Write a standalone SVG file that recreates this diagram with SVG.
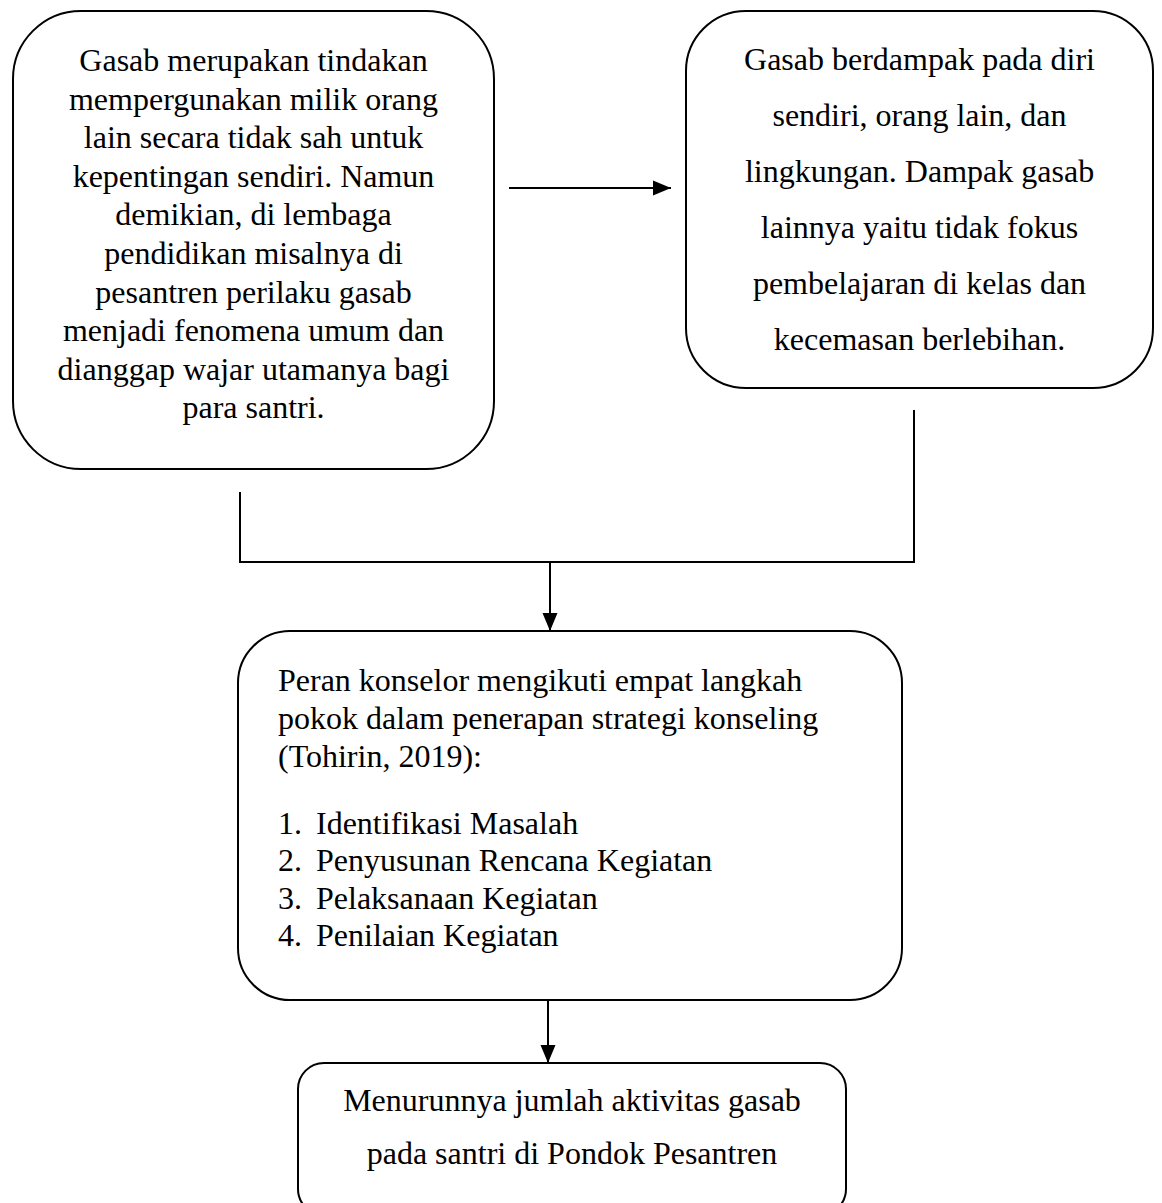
<svg xmlns="http://www.w3.org/2000/svg" width="1162" height="1203" viewBox="0 0 1162 1203">
<style>
.box{fill:#fff;stroke:#000;stroke-width:2}
.t{font-family:"Liberation Serif","Times New Roman",serif;font-size:32px;fill:#000}
.c{text-anchor:middle}
.ln{fill:none;stroke:#000;stroke-width:2}
</style>
<defs>
<marker id="ah" markerUnits="userSpaceOnUse" markerWidth="18" markerHeight="16" viewBox="0 0 18 16" refX="18" refY="8" orient="auto">
<path d="M0,0.5 L18,8 L0,15.5 z" fill="#000"/>
</marker>
</defs>
<rect width="1162" height="1203" fill="#fff"/>
<g id="connectors">
<line class="ln" x1="509" y1="188" x2="671" y2="188" marker-end="url(#ah)"/>
<polyline class="ln" points="240,492 240,562 914,562 914,410"/>
<line class="ln" x1="550" y1="562" x2="550" y2="631" marker-end="url(#ah)"/>
<line class="ln" x1="548" y1="1000" x2="548" y2="1063" marker-end="url(#ah)"/>
</g>
<g id="node1">
<rect class="box" x="13" y="11" width="481" height="458" rx="68" ry="68"/>
<text class="t c" x="253.5" y="71">Gasab merupakan tindakan</text>
<text class="t c" x="253.5" y="109.6">mempergunakan milik orang</text>
<text class="t c" x="253.5" y="148.2">lain secara tidak sah untuk</text>
<text class="t c" x="253.5" y="186.8">kepentingan sendiri. Namun</text>
<text class="t c" x="253.5" y="225.4">demikian, di lembaga</text>
<text class="t c" x="253.5" y="264">pendidikan misalnya di</text>
<text class="t c" x="253.5" y="302.6">pesantren perilaku gasab</text>
<text class="t c" x="253.5" y="341.2">menjadi fenomena umum dan</text>
<text class="t c" x="253.5" y="379.8">dianggap wajar utamanya bagi</text>
<text class="t c" x="253.5" y="418.4">para santri.</text>
</g>
<g id="node2">
<rect class="box" x="686" y="11" width="467" height="377" rx="60" ry="60"/>
<text class="t c" x="919.5" y="70">Gasab berdampak pada diri</text>
<text class="t c" x="919.5" y="126">sendiri, orang lain, dan</text>
<text class="t c" x="919.5" y="182">lingkungan. Dampak gasab</text>
<text class="t c" x="919.5" y="238">lainnya yaitu tidak fokus</text>
<text class="t c" x="919.5" y="294">pembelajaran di kelas dan</text>
<text class="t c" x="919.5" y="350">kecemasan berlebihan.</text>
</g>
<g id="node3">
<rect class="box" x="238" y="631" width="664" height="369" rx="52" ry="52"/>
<text class="t" x="278" y="691">Peran konselor mengikuti empat langkah</text>
<text class="t" x="278" y="729">pokok dalam penerapan strategi konseling</text>
<text class="t" x="278" y="767">(Tohirin, 2019):</text>
<text class="t" x="278" y="834">1.</text><text class="t" x="316" y="834">Identifikasi Masalah</text>
<text class="t" x="278" y="871">2.</text><text class="t" x="316" y="871">Penyusunan Rencana Kegiatan</text>
<text class="t" x="278" y="909">3.</text><text class="t" x="316" y="909">Pelaksanaan Kegiatan</text>
<text class="t" x="278" y="946">4.</text><text class="t" x="316" y="946">Penilaian Kegiatan</text>
</g>
<g id="node4">
<rect class="box" x="298" y="1063" width="548" height="152" rx="26" ry="26"/>
<text class="t c" x="572" y="1111">Menurunnya jumlah aktivitas gasab</text>
<text class="t c" x="572" y="1164">pada santri di Pondok Pesantren</text>
</g>
</svg>
